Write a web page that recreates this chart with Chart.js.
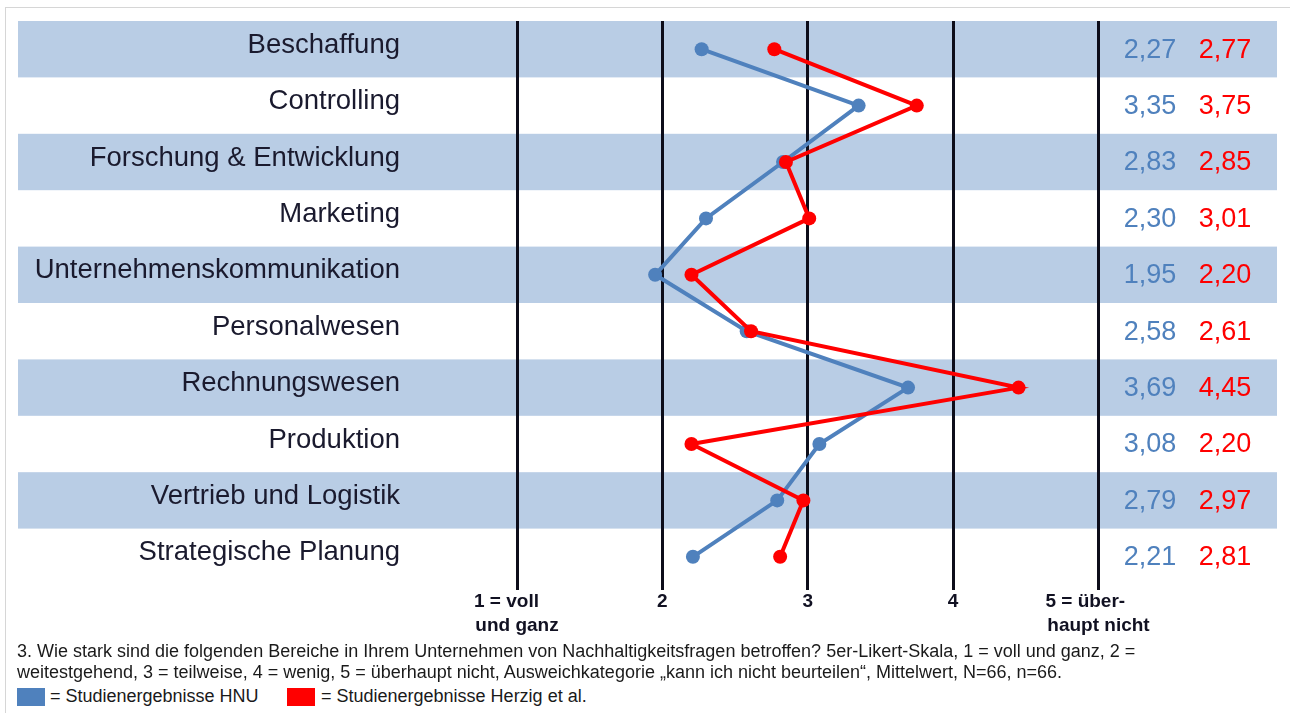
<!DOCTYPE html>
<html>
<head>
<meta charset="utf-8">
<script src="https://cdn.jsdelivr.net/npm/chart.js@4/dist/chart.umd.min.js"></script>
<style>
  body { margin: 0; background: #fff; font-family: 'Liberation Sans', Arial, sans-serif; }
  #wrap { position: relative; width: 1290px; height: 713px; overflow: hidden; }
  #frame { position: absolute; left: 5px; top: 7px; right: -2px; bottom: -2px; border-left: 1px solid #d6d6d6; border-top: 1px solid #d6d6d6; }
  #chartbox { position: absolute; left: 0; top: 0; width: 1290px; height: 645px; }
  .note { position: absolute; left: 17px; font-size: 18px; color: #1a1a1a; white-space: nowrap; line-height: 21px; }
  .sq { position: absolute; top: 688px; width: 28px; height: 18px; }
  .lg { position: absolute; top: 686px; font-size: 18px; color: #1a1a1a; white-space: nowrap; line-height: 21px; }
</style>
</head>
<body>
<div id="wrap">
  <div id="frame"></div>
  <div id="chartbox"><canvas id="likertchart"></canvas></div>
  <div class="note" style="top:641px">3. Wie stark sind die folgenden Bereiche in Ihrem Unternehmen von Nachhaltigkeitsfragen betroffen? 5er-Likert-Skala, 1 = voll und ganz, 2 =</div>
  <div class="note" style="top:662px">weitestgehend, 3 = teilweise, 4 = wenig, 5 = überhaupt nicht, Ausweichkategorie „kann ich nicht beurteilen“, Mittelwert, N=66, n=66.</div>
  <div class="sq" style="left:17px; background:#4f81bd"></div>
  <div class="lg" style="left:50px">= Studienergebnisse HNU</div>
  <div class="sq" style="left:287px; background:#ff0000"></div>
  <div class="lg" style="left:321px">= Studienergebnisse Herzig et al.</div>
</div>
<script>
'use strict';

var categories = ['Beschaffung', 'Controlling', 'Forschung & Entwicklung', 'Marketing',
  'Unternehmenskommunikation', 'Personalwesen', 'Rechnungswesen', 'Produktion',
  'Vertrieb und Logistik', 'Strategische Planung'];
var hnuValues = [2.27, 3.35, 2.83, 2.30, 1.95, 2.58, 3.69, 3.08, 2.79, 2.21];
var herzigValues = [2.77, 3.75, 2.85, 3.01, 2.20, 2.61, 4.45, 2.20, 2.97, 2.81];
var tickValues = [1, 2, 3, 4, 5];
var tickLabels = [['1 = voll    ', 'und ganz'], '2', '3', '4', ['5 = über-     ', 'haupt nicht']];

var BLUE = '#4f81bd';
var RED = '#ff0000';
var FONT = "'Liberation Sans', Arial, sans-serif";

function fmt(v) {
  return v.toFixed(2).replace('.', ',');
}

// light blue stripes behind every second row
var bandsPlugin = {
  id: 'bands',
  beforeDraw: function(chart) {
    var c = chart.ctx;
    var area = chart.chartArea;
    var y = chart.scales.y;
    var half = area.height / categories.length / 2;
    c.save();
    c.fillStyle = '#b9cde5';
    for (var i = 0; i < categories.length; i += 2) {
      var cy = y.getPixelForValue(i);
      c.fillRect(18, cy - half, 1277 - 18, half * 2);
    }
    c.restore();
  }
};

// mean values printed at the right
var valuesPlugin = {
  id: 'values',
  afterDatasetsDraw: function(chart) {
    var c = chart.ctx;
    var y = chart.scales.y;
    c.save();
    c.font = '27px ' + FONT;
    c.textAlign = 'center';
    c.textBaseline = 'middle';
    for (var i = 0; i < categories.length; i++) {
      var cy = y.getPixelForValue(i) + 1;
      c.fillStyle = BLUE;
      c.fillText(fmt(hnuValues[i]), 1150, cy);
      c.fillStyle = RED;
      c.fillText(fmt(herzigValues[i]), 1225, cy);
    }
    c.restore();
  }
};

var ctx = document.getElementById('likertchart');
new Chart(ctx, {
  type: 'line',
  data: {
    labels: categories,
    datasets: [{
      label: 'Studienergebnisse Herzig et al.',
      data: herzigValues,
      borderColor: RED,
      backgroundColor: RED,
      borderWidth: 4,
      pointRadius: 7,
      pointBorderWidth: 0,
      pointBackgroundColor: RED,
      order: 1
    }, {
      label: 'Studienergebnisse HNU',
      data: hnuValues,
      borderColor: BLUE,
      backgroundColor: BLUE,
      borderWidth: 4,
      pointRadius: 7,
      pointBorderWidth: 0,
      pointBackgroundColor: BLUE,
      order: 2
    }]
  },
  options: {
    indexAxis: 'y',
    responsive: true,
    maintainAspectRatio: false,
    animation: false,
    layout: { padding: { left: 18, right: 13, top: 21, bottom: 0 } },
    plugins: {
      legend: { display: false },
      tooltip: { enabled: false }
    },
    scales: {
      x: {
        type: 'linear',
        min: 0.195,
        max: 6.228,
        afterBuildTicks: function(scale) {
          scale.ticks = tickValues.map(function(v) { return { value: v }; });
        },
        afterFit: function(scale) { scale.height = 60; },
        border: { display: false },
        grid: { color: '#0d0d1a', lineWidth: 3, tickLength: 5, drawTicks: true },
        ticks: {
          autoSkip: false,
          maxRotation: 0,
          padding: 0,
          color: '#111122',
          font: { family: FONT, size: 19, weight: 'bold', lineHeight: 1.25 },
          callback: function(value) {
            return tickLabels[tickValues.indexOf(value)];
          }
        }
      },
      y: {
        type: 'category',
        offset: true,
        afterFit: function(scale) { scale.width = 382; },
        border: { display: false },
        grid: { display: false, drawTicks: false },
        ticks: {
          padding: 0,
          labelOffset: -4,
          color: '#1a1a2e',
          font: { family: FONT, size: 27.5 }
        }
      }
    }
  },
  plugins: [bandsPlugin, valuesPlugin]
});
</script>
</body>
</html>
